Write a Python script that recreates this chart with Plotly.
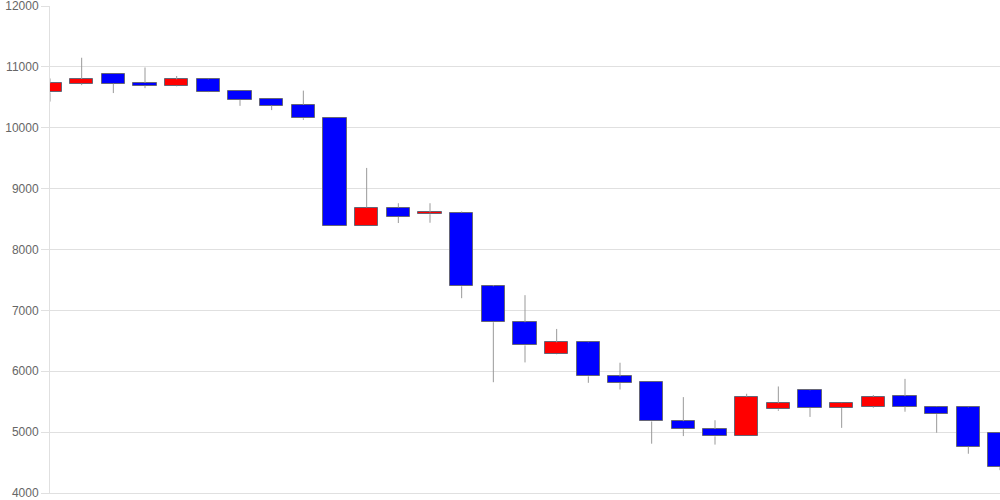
import plotly.graph_objects as go

opens  = [10580, 10725, 10880, 10735, 10690, 10795, 10600, 10465, 10375, 10160,
          8385, 8690, 8580, 8605, 7395, 6805, 6280, 6475, 5915, 5820,
          5180, 5050, 4935, 5375, 5685, 5395, 5420, 5590, 5420, 5405, 4990]
closes = [10730, 10800, 10725, 10690, 10795, 10590, 10455, 10365, 10155, 8385,
          8690, 8535, 8610, 7395, 6805, 6425, 6475, 5915, 5805, 5175,
          5045, 4930, 5580, 5475, 5395, 5475, 5580, 5420, 5295, 4760, 4425]
highs  = [10810, 11150, 10880, 10990, 10850, 10800, 10600, 10465, 10610, 10160,
          9340, 8760, 8760, 8625, 7415, 7250, 6695, 6480, 6140, 5820,
          5575, 5195, 5630, 5750, 5690, 5480, 5610, 5875, 5425, 5410, 4995]
lows   = [10430, 10700, 10570, 10650, 10680, 10585, 10360, 10290, 10130, 8385,
          8385, 8435, 8440, 7200, 5820, 6145, 6275, 5810, 5700, 4810,
          4935, 4795, 4935, 5350, 5250, 5070, 5400, 5335, 4990, 4645, 4375]
y_ticks = [4000, 5000, 6000, 7000, 8000, 9000, 10000, 11000, 12000]
y_tick_labels = ["4000", "5000", "6000", "7000", "8000", "9000", "10000", "11000", "12000"]

xs = list(range(len(opens)))
bases = [min(o, c) for o, c in zip(opens, closes)]
heights = [abs(c - o) for o, c in zip(opens, closes)]
colors = ["#ff0000" if c > o else "#0000ff" for o, c in zip(opens, closes)]

wx, wy = [], []
for x, o, c, h, l in zip(xs, opens, closes, highs, lows):
    top, bot = max(o, c), min(o, c)
    if h > top:
        wx += [x, x, None]; wy += [h, top, None]
    if l < bot:
        wx += [x, x, None]; wy += [bot, l, None]

fig = go.Figure()
fig.add_trace(go.Scatter(x=wx, y=wy, mode="lines",
                         line=dict(color="#999999", width=1),
                         hoverinfo="skip", showlegend=False))
fig.add_trace(go.Bar(x=xs, y=heights, base=bases, width=0.73,
                     marker=dict(color=colors, line=dict(color="#666677", width=1)),
                     showlegend=False))

fig.update_layout(
    width=1000, height=500,
    margin=dict(l=50, r=0, t=6, b=7, autoexpand=False),
    paper_bgcolor="white", plot_bgcolor="white",
    font=dict(family="Liberation Sans, Arial, sans-serif", size=12, color="#666666"),
    bargap=0,
)
fig.update_xaxes(range=[0, 30], showticklabels=False, showgrid=False,
                 zeroline=False, showline=True, linecolor="#e0e0e0", linewidth=1,
                 ticks="", automargin=False)
fig.update_yaxes(range=[4000, 12000], tickvals=y_ticks, ticktext=y_tick_labels,
                 showgrid=True, gridcolor="#e0e0e0", gridwidth=1, zeroline=False,
                 showline=True, linecolor="#e0e0e0", linewidth=1,
                 ticks="outside", ticklen=8, tickcolor="#e0e0e0", automargin=False,
                 ticklabeloverflow="allow",
                 tickfont=dict(size=12, color="#666666"))

fig.write_html("out.html", config={"displayModeBar": False},
               post_script="document.body.style.margin='0';document.body.style.overflow='hidden';")
